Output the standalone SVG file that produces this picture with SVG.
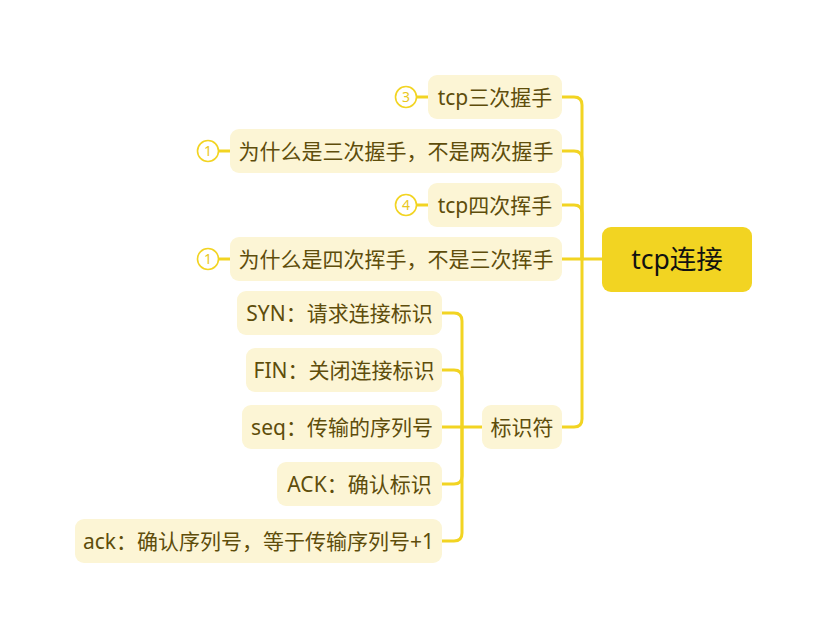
<svg xmlns="http://www.w3.org/2000/svg" width="828" height="639" viewBox="0 0 828 639">
<style>
.bg{fill:#ffffff}
.conn{fill:none;stroke:#F2D422;stroke-width:3;stroke-linecap:round}
.node{fill:#FCF5D5}
.root{fill:#F2D422}
.t{font-family:"Noto Sans","Noto Sans CJK SC",sans-serif;font-size:21px;fill:#5E4D0B;text-anchor:middle}
.rt{font-family:"Noto Sans","Noto Sans CJK SC",sans-serif;font-size:26.5px;fill:#111111;text-anchor:middle}
.bc{fill:#ffffff;stroke:#F2D422;stroke-width:1.6}
.bl{stroke:#F2D422;stroke-width:3}
.bt{font-family:"Noto Sans",sans-serif;font-size:14px;fill:#E9C71E;text-anchor:middle}
</style>
<rect class="bg" x="0" y="0" width="828" height="639"/>
<g id="connectors">
<path class="conn" d="M602,259 H562"/>
<path class="conn" d="M582,259 V105 Q582,97 574,97 H562"/>
<path class="conn" d="M582,259 V159 Q582,151 574,151 H562"/>
<path class="conn" d="M582,259 V213 Q582,205 574,205 H562"/>
<path class="conn" d="M582,259 V419 Q582,427 574,427 H562"/>
<path class="conn" d="M482,427 H442"/>
<path class="conn" d="M462,427 V321 Q462,313 454,313 H442"/>
<path class="conn" d="M462,427 V378 Q462,370 454,370 H442"/>
<path class="conn" d="M462,427 V476 Q462,484 454,484 H442"/>
<path class="conn" d="M462,427 V533 Q462,541 454,541 H442"/>
</g>
<g id="root">
<rect class="root" x="602" y="227" width="150" height="65" rx="9"/>
<text class="rt" x="677" y="268.5">tcp连接</text>
</g>
<g id="n1">
<line class="bl" x1="416" y1="97" x2="428" y2="97"/>
<circle class="bc" cx="406" cy="97" r="10.5"/>
<text class="bt" x="406" y="102">3</text>
<rect class="node" x="428" y="75" width="134" height="44" rx="9"/>
<text class="t" x="495" y="104.5">tcp三次握手</text>
</g>
<g id="n2">
<line class="bl" x1="218" y1="151" x2="230" y2="151"/>
<circle class="bc" cx="208" cy="151" r="10.5"/>
<text class="bt" x="208" y="156">1</text>
<rect class="node" x="230" y="129" width="332" height="44" rx="9"/>
<text class="t" x="396" y="158.5">为什么是三次握手，不是两次握手</text>
</g>
<g id="n3">
<line class="bl" x1="416" y1="205" x2="428" y2="205"/>
<circle class="bc" cx="406" cy="205" r="10.5"/>
<text class="bt" x="406" y="210">4</text>
<rect class="node" x="428" y="183" width="134" height="44" rx="9"/>
<text class="t" x="495" y="212.5">tcp四次挥手</text>
</g>
<g id="n4">
<line class="bl" x1="218" y1="259" x2="230" y2="259"/>
<circle class="bc" cx="208" cy="259" r="10.5"/>
<text class="bt" x="208" y="264">1</text>
<rect class="node" x="230" y="237" width="332" height="44" rx="9"/>
<text class="t" x="396" y="266.5">为什么是四次挥手，不是三次挥手</text>
</g>
<g id="n5">
<rect class="node" x="482" y="405" width="80" height="44" rx="9"/>
<text class="t" x="522" y="434.5">标识符</text>
</g>
<g id="s1">
<rect class="node" x="237" y="291" width="205" height="44" rx="9"/>
<text class="t" x="339.5" y="320.5">SYN：请求连接标识</text>
</g>
<g id="s2">
<rect class="node" x="246" y="348" width="196" height="44" rx="9"/>
<text class="t" x="344" y="377.5">FIN：关闭连接标识</text>
</g>
<g id="s3">
<rect class="node" x="242" y="405" width="200" height="44" rx="9"/>
<text class="t" x="342" y="434.5">seq：传输的序列号</text>
</g>
<g id="s4">
<rect class="node" x="277" y="462" width="165" height="44" rx="9"/>
<text class="t" x="359.5" y="491.5">ACK：确认标识</text>
</g>
<g id="s5">
<rect class="node" x="75" y="519" width="367" height="44" rx="9"/>
<text class="t" x="258.5" y="548.5">ack：确认序列号，等于传输序列号+1</text>
</g>
</svg>
